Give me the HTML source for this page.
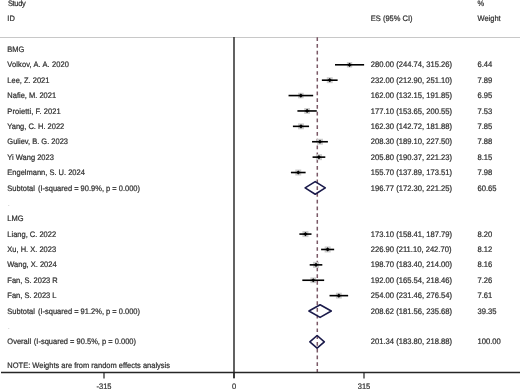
<!DOCTYPE html>
<html><head><meta charset="utf-8"><style>
html,body{margin:0;padding:0;background:#fff;}
body{width:520px;height:389px;overflow:hidden;}
svg{display:block;will-change:transform;}
text{text-rendering:geometricPrecision;font-family:"Liberation Sans",sans-serif;font-size:7.5px;fill:#303030;stroke:#303030;stroke-width:0.22px;}
</style></head><body>
<svg width="520" height="389" viewBox="0 0 520 389">
<text transform="translate(7.90 5.83) scale(1 1.06)"  textLength="17.9" lengthAdjust="spacing">Study</text>
<text transform="translate(7.30 21.22) scale(1 1.06)" >ID</text>
<text transform="translate(370.80 21.22) scale(1 1.06)" >ES (95% CI)</text>
<text transform="translate(477.50 5.83) scale(1 1.06)" >%</text>
<text transform="translate(477.50 21.22) scale(1 1.06)" >Weight</text>
<line x1="0" y1="37.5" x2="520" y2="37.5" stroke="#c8c8c8" stroke-width="1"/>
<line x1="234.0" y1="37" x2="234.0" y2="378" stroke="#3a3a3a" stroke-width="1.6"/>
<line x1="317.30" y1="37.3" x2="317.30" y2="372" stroke="#7a5866" stroke-width="1.5" stroke-dasharray="3.7 3.07"/>
<text transform="translate(7.30 52.00) scale(1 1.06)" >BMG</text>
<text transform="translate(7.30 67.39) scale(1 1.06)"  textLength="61.7" lengthAdjust="spacing">Volkov, A. A. 2020</text>
<text transform="translate(370.80 67.39) scale(1 1.06)"  style="font-size:7.62px">280.00 (244.74, 315.26)</text>
<text transform="translate(477.50 67.39) scale(1 1.06)"  style="font-size:7.62px">6.44</text>
<rect x="346.87" y="62.10" width="5.37" height="5.37" fill="#cdcdcd"/>
<line x1="335.00" y1="64.79" x2="364.11" y2="64.79" stroke="#000" stroke-width="1.6"/>
<polygon points="347.46,64.79 349.56,62.69 351.66,64.79 349.56,66.89" fill="#000"/>
<text transform="translate(7.30 82.78) scale(1 1.06)" >Lee, Z. 2021</text>
<text transform="translate(370.80 82.78) scale(1 1.06)"  style="font-size:7.62px">232.00 (212.90, 251.10)</text>
<text transform="translate(477.50 82.78) scale(1 1.06)"  style="font-size:7.62px">7.89</text>
<rect x="326.77" y="77.21" width="5.95" height="5.95" fill="#cdcdcd"/>
<line x1="321.86" y1="80.18" x2="337.63" y2="80.18" stroke="#000" stroke-width="1.6"/>
<polygon points="327.65,80.18 329.75,78.08 331.85,80.18 329.75,82.28" fill="#000"/>
<text transform="translate(7.30 98.17) scale(1 1.06)" >Nafie, M. 2021</text>
<text transform="translate(370.80 98.17) scale(1 1.06)"  style="font-size:7.62px">162.00 (132.15, 191.85)</text>
<text transform="translate(477.50 98.17) scale(1 1.06)"  style="font-size:7.62px">6.95</text>
<rect x="298.07" y="92.78" width="5.58" height="5.58" fill="#cdcdcd"/>
<line x1="288.54" y1="95.57" x2="313.18" y2="95.57" stroke="#000" stroke-width="1.6"/>
<polygon points="298.76,95.57 300.86,93.47 302.96,95.57 300.86,97.67" fill="#000"/>
<text transform="translate(7.30 113.56) scale(1 1.06)"  textLength="53.4" lengthAdjust="spacing">Proietti, F. 2021</text>
<text transform="translate(370.80 113.56) scale(1 1.06)"  style="font-size:7.62px">177.10 (153.65, 200.55)</text>
<text transform="translate(477.50 113.56) scale(1 1.06)"  style="font-size:7.62px">7.53</text>
<rect x="304.18" y="108.05" width="5.81" height="5.81" fill="#cdcdcd"/>
<line x1="297.41" y1="110.96" x2="316.77" y2="110.96" stroke="#000" stroke-width="1.6"/>
<polygon points="304.99,110.96 307.09,108.86 309.19,110.96 307.09,113.06" fill="#000"/>
<text transform="translate(7.30 128.95) scale(1 1.06)" >Yang, C. H. 2022</text>
<text transform="translate(370.80 128.95) scale(1 1.06)"  style="font-size:7.62px">162.30 (142.72, 181.88)</text>
<text transform="translate(477.50 128.95) scale(1 1.06)"  style="font-size:7.62px">7.85</text>
<rect x="298.01" y="123.38" width="5.93" height="5.93" fill="#cdcdcd"/>
<line x1="292.90" y1="126.35" x2="309.06" y2="126.35" stroke="#000" stroke-width="1.6"/>
<polygon points="298.88,126.35 300.98,124.25 303.08,126.35 300.98,128.45" fill="#000"/>
<text transform="translate(7.30 144.34) scale(1 1.06)" >Guliev, B. G. 2023</text>
<text transform="translate(370.80 144.34) scale(1 1.06)"  style="font-size:7.62px">208.30 (189.10, 227.50)</text>
<text transform="translate(477.50 144.34) scale(1 1.06)"  style="font-size:7.62px">7.88</text>
<rect x="316.99" y="138.77" width="5.95" height="5.95" fill="#cdcdcd"/>
<line x1="312.04" y1="141.74" x2="327.89" y2="141.74" stroke="#000" stroke-width="1.6"/>
<polygon points="317.87,141.74 319.97,139.64 322.07,141.74 319.97,143.84" fill="#000"/>
<text transform="translate(7.30 159.73) scale(1 1.06)" >Yi Wang 2023</text>
<text transform="translate(370.80 159.73) scale(1 1.06)"  style="font-size:7.62px">205.80 (190.37, 221.23)</text>
<text transform="translate(477.50 159.73) scale(1 1.06)"  style="font-size:7.62px">8.15</text>
<rect x="315.91" y="154.11" width="6.05" height="6.05" fill="#cdcdcd"/>
<line x1="312.57" y1="157.13" x2="325.30" y2="157.13" stroke="#000" stroke-width="1.6"/>
<polygon points="316.83,157.13 318.93,155.03 321.03,157.13 318.93,159.23" fill="#000"/>
<text transform="translate(7.30 175.12) scale(1 1.06)" >Engelmann, S. U. 2024</text>
<text transform="translate(370.80 175.12) scale(1 1.06)"  style="font-size:7.62px">155.70 (137.89, 173.51)</text>
<text transform="translate(477.50 175.12) scale(1 1.06)"  style="font-size:7.62px">7.98</text>
<rect x="295.27" y="169.53" width="5.98" height="5.98" fill="#cdcdcd"/>
<line x1="290.91" y1="172.52" x2="305.61" y2="172.52" stroke="#000" stroke-width="1.6"/>
<polygon points="296.16,172.52 298.26,170.42 300.36,172.52 298.26,174.62" fill="#000"/>
<text transform="translate(7.30 190.51) scale(1 1.06)" >Subtotal<tspan dx="-1.1">  (I-squared = 90.9%, p = 0.000)</tspan></text>
<text transform="translate(370.80 190.51) scale(1 1.06)"  style="font-size:7.62px">196.77 (172.30, 221.25)</text>
<text transform="translate(477.50 190.51) scale(1 1.06)"  style="font-size:7.62px">60.65</text>
<polygon points="305.11,187.91 315.21,181.61 325.31,187.91 315.21,194.21" fill="none" stroke="#1a1a4a" stroke-width="1.6" stroke-linejoin="round"/>
<text transform="translate(7.80 205.90) scale(1 1.06)" style="fill:#b8b8b8;stroke:none">.</text>
<text transform="translate(7.30 221.29) scale(1 1.06)" >LMG</text>
<text transform="translate(7.30 236.68) scale(1 1.06)" >Liang, C. 2022</text>
<text transform="translate(370.80 236.68) scale(1 1.06)"  style="font-size:7.62px">173.10 (158.41, 187.79)</text>
<text transform="translate(477.50 236.68) scale(1 1.06)"  style="font-size:7.62px">8.20</text>
<rect x="302.41" y="231.05" width="6.06" height="6.06" fill="#cdcdcd"/>
<line x1="299.38" y1="234.08" x2="311.50" y2="234.08" stroke="#000" stroke-width="1.6"/>
<polygon points="303.34,234.08 305.44,231.98 307.54,234.08 305.44,236.18" fill="#000"/>
<text transform="translate(7.30 252.07) scale(1 1.06)" >Xu, H. X. 2023</text>
<text transform="translate(370.80 252.07) scale(1 1.06)"  style="font-size:7.62px">226.90 (211.10, 242.70)</text>
<text transform="translate(477.50 252.07) scale(1 1.06)"  style="font-size:7.62px">8.12</text>
<rect x="324.62" y="246.45" width="6.03" height="6.03" fill="#cdcdcd"/>
<line x1="321.12" y1="249.47" x2="334.16" y2="249.47" stroke="#000" stroke-width="1.6"/>
<polygon points="325.54,249.47 327.64,247.37 329.74,249.47 327.64,251.57" fill="#000"/>
<text transform="translate(7.30 267.46) scale(1 1.06)" >Wang, X. 2024</text>
<text transform="translate(370.80 267.46) scale(1 1.06)"  style="font-size:7.62px">198.70 (183.40, 214.00)</text>
<text transform="translate(477.50 267.46) scale(1 1.06)"  style="font-size:7.62px">8.16</text>
<rect x="312.98" y="261.84" width="6.05" height="6.05" fill="#cdcdcd"/>
<line x1="309.69" y1="264.86" x2="322.32" y2="264.86" stroke="#000" stroke-width="1.6"/>
<polygon points="313.90,264.86 316.00,262.76 318.10,264.86 316.00,266.96" fill="#000"/>
<text transform="translate(7.30 282.85) scale(1 1.06)" >Fan, S. 2023 R</text>
<text transform="translate(370.80 282.85) scale(1 1.06)"  style="font-size:7.62px">192.00 (165.54, 218.46)</text>
<text transform="translate(477.50 282.85) scale(1 1.06)"  style="font-size:7.62px">7.26</text>
<rect x="310.38" y="277.40" width="5.71" height="5.71" fill="#cdcdcd"/>
<line x1="302.32" y1="280.25" x2="324.16" y2="280.25" stroke="#000" stroke-width="1.6"/>
<polygon points="311.14,280.25 313.24,278.15 315.34,280.25 313.24,282.35" fill="#000"/>
<text transform="translate(7.30 298.24) scale(1 1.06)" >Fan, S. 2023 L</text>
<text transform="translate(370.80 298.24) scale(1 1.06)"  style="font-size:7.62px">254.00 (231.46, 276.54)</text>
<text transform="translate(477.50 298.24) scale(1 1.06)"  style="font-size:7.62px">7.61</text>
<rect x="335.90" y="292.72" width="5.84" height="5.84" fill="#cdcdcd"/>
<line x1="329.52" y1="295.64" x2="348.13" y2="295.64" stroke="#000" stroke-width="1.6"/>
<polygon points="336.73,295.64 338.83,293.54 340.93,295.64 338.83,297.74" fill="#000"/>
<text transform="translate(7.30 313.63) scale(1 1.06)" >Subtotal<tspan dx="-1.1">  (I-squared = 91.2%, p = 0.000)</tspan></text>
<text transform="translate(370.80 313.63) scale(1 1.06)"  style="font-size:7.62px">208.62 (181.56, 235.68)</text>
<text transform="translate(477.50 313.63) scale(1 1.06)"  style="font-size:7.62px">39.35</text>
<polygon points="308.93,311.03 320.10,304.73 331.26,311.03 320.10,317.33" fill="none" stroke="#1a1a4a" stroke-width="1.6" stroke-linejoin="round"/>
<text transform="translate(7.80 329.02) scale(1 1.06)" style="fill:#b8b8b8;stroke:none">.</text>
<text transform="translate(7.30 344.41) scale(1 1.06)" >Overall<tspan dx="-1.4">  (I-squared = 90.5%, p = 0.000)</tspan></text>
<text transform="translate(370.80 344.41) scale(1 1.06)"  style="font-size:7.62px">201.34 (183.80, 218.88)</text>
<text transform="translate(477.50 344.41) scale(1 1.06)"  style="font-size:7.62px">100.00</text>
<polygon points="309.85,341.81 317.09,335.51 324.33,341.81 317.09,348.11" fill="none" stroke="#1a1a4a" stroke-width="1.6" stroke-linejoin="round"/>
<text transform="translate(7.30 367.50) scale(1 1.06)" >NOTE: Weights are from random effects analysis</text>
<line x1="1" y1="372.5" x2="520" y2="372.5" stroke="#262626" stroke-width="1.3"/>
<line x1="104.00" y1="372" x2="104.00" y2="378.5" stroke="#222" stroke-width="1.2"/>
<text transform="translate(104.00 388.60) scale(1 1.06)" text-anchor="middle">-315</text>
<line x1="234.00" y1="372" x2="234.00" y2="378.5" stroke="#222" stroke-width="1.2"/>
<text transform="translate(234.00 388.60) scale(1 1.06)" text-anchor="middle">0</text>
<line x1="364.00" y1="372" x2="364.00" y2="378.5" stroke="#222" stroke-width="1.2"/>
<text transform="translate(364.00 388.60) scale(1 1.06)" text-anchor="middle">315</text>
</svg>
</body></html>
